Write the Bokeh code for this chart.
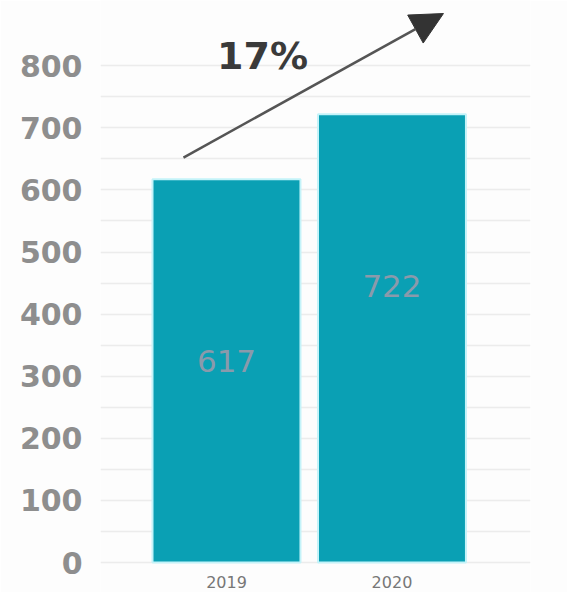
from bokeh.plotting import figure
from bokeh.models import Range1d, FixedTicker, Arrow, NormalHead, ColumnDataSource
from bokeh.core.properties import value
from bokeh.embed import file_html
from bokeh.resources import INLINE

# data
years = ["2019", "2020"]
counts = [617, 722]
growth_label = "17%"
y_ticks = [0, 100, 200, 300, 400, 500, 600, 700, 800]

# layout constants (not data)
xpos = [1, 2]
bar_w = 0.894
label_y = [325, 446]

p = figure(width=567, height=592, output_backend="svg", toolbar_location=None,
           x_range=Range1d(0.2387, 2.837), y_range=Range1d(-48.3, 905),
           min_border_left=100, min_border_right=37, min_border_top=0, min_border_bottom=0)
p.outline_line_color = None
p.background_fill_color = "#fdfdfd"
p.border_fill_color = "#fdfdfd"
p.xaxis.visible = False
p.xgrid.visible = False

ax = p.yaxis[0]
ax.ticker = FixedTicker(ticks=y_ticks)
ax.axis_line_color = None
ax.major_tick_line_color = None
ax.minor_tick_line_color = None
ax.major_label_text_font = "DejaVu Sans"
ax.major_label_text_font_style = "bold"
ax.major_label_text_font_size = "30px"
ax.major_label_text_color = "#8e8e8e"
ax.major_label_standoff = 12

p.ygrid.ticker = FixedTicker(ticks=list(range(0, 801, 50)))
p.ygrid.grid_line_color = "#ececec"
p.ygrid.grid_line_width = 1.5

src = ColumnDataSource(dict(x=xpos, top=counts, year=years,
                            lab=[str(c) for c in counts], ly=label_y))
p.vbar(x="x", top="top", bottom=0, width=bar_w, source=src,
       fill_color="#0aa0b4", line_color="#c4f3f9", line_width=2)

p.text(x="x", y="ly", text="lab", source=src, text_font=value("DejaVu Sans"),
       text_font_size="31px", text_color="#8a9aab", text_align="center",
       text_baseline="middle")

p.text(x="x", y=-32, text="year", source=src, text_font=value("DejaVu Sans"),
       text_font_size="16px", text_color="#777777", text_align="center",
       text_baseline="middle")

p.add_layout(Arrow(end=NormalHead(size=32, fill_color="#333333", line_color="#333333"),
                   x_start=0.74, y_start=652, x_end=2.311, y_end=884,
                   line_color="#555555", line_width=2.5))

p.text(x=[1.2175], y=[815], text=[growth_label], text_font=value("DejaVu Sans"),
       text_font_style="bold", text_font_size="38px", text_color="#3a3a3a",
       text_align="center", text_baseline="middle")

open("out.html", "w").write(file_html(p, INLINE))
